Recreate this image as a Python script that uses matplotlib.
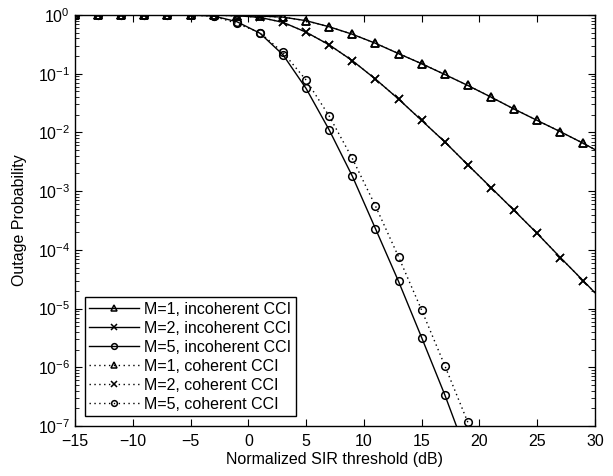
import numpy as np
import matplotlib
matplotlib.use('Agg')
import matplotlib.pyplot as plt

plt.rcParams['font.family'] = ['Liberation Sans', 'DejaVu Sans']
plt.rcParams['mathtext.fontset'] = 'custom'
plt.rcParams['mathtext.rm'] = 'Liberation Sans'

# SIR threshold (dB): markers every 2 dB, curves continue to the axis edge
snr = [-15, -13, -11, -9, -7, -5, -3, -1, 1, 3, 5, 7, 9, 11, 13, 15, 17, 19, 21, 23, 25, 27, 29, 30]
snr_m5 = [-15, -13, -11, -9, -7, -5, -3, -1, 1, 3, 5, 7, 9, 11, 13, 15, 17, 19, 21]

# incoherent CCI
p_m1_inc = [1.0, 1.0, 1.0, 1.0, 0.999, 0.997, 0.99, 0.98, 0.96, 0.92, 0.80, 0.63, 0.47, 0.33, 0.22,
            0.148, 0.097, 0.063, 0.040, 0.025, 0.016, 0.0103, 0.0065, 0.0051]
p_m2_inc = [1.0, 1.0, 1.0, 1.0, 1.0, 0.999, 0.995, 0.975, 0.91, 0.75, 0.51, 0.31, 0.167, 0.081, 0.037,
            0.016, 0.0069, 0.0028, 0.00115, 0.00047, 0.00019, 7.4e-5, 2.95e-5, 1.86e-5]
p_m5_inc = [1.0, 1.0, 1.0, 1.0, 1.0, 0.995, 0.96, 0.77, 0.49, 0.21, 0.056, 0.011, 0.0018, 2.3e-4,
            2.9e-5, 3.2e-6, 3.4e-7, 3.0e-8, 2.5e-9]

# coherent CCI
p_m1_coh = p_m1_inc
p_m2_coh = p_m2_inc
p_m5_coh = [1.0, 1.0, 1.0, 1.0, 1.0, 0.995, 0.955, 0.72, 0.50, 0.23, 0.078, 0.019, 0.0036, 5.6e-4,
            7.6e-5, 9.4e-6, 1.07e-6, 1.15e-7, 1.0e-8]

fig = plt.figure(figsize=(6.13, 4.76), dpi=100)
ax = fig.add_axes([75 / 613, 1 - 426 / 476, 520 / 613, 411 / 476])

ms = 5.5
mw = 1.1
dots = (0, (1, 2.5))
mk_all = list(range(len(snr) - 1))
ax.semilogy(snr, p_m1_inc, 'k-', lw=1, marker='^', ms=ms, mfc='none', mew=mw,
            markevery=mk_all, label='M=1, incoherent CCI')
ax.semilogy(snr, p_m2_inc, 'k-', lw=1, marker='x', ms=ms, mfc='none', mew=mw,
            markevery=mk_all, label='M=2, incoherent CCI')
ax.semilogy(snr_m5, p_m5_inc, 'k-', lw=1, marker='o', ms=ms, mfc='none', mew=mw,
            label='M=5, incoherent CCI')
ax.semilogy(snr, p_m1_coh, color='k', ls=dots, lw=1, marker='^', ms=ms, mfc='none', mew=mw,
            markevery=mk_all, label='M=1, coherent CCI')
ax.semilogy(snr, p_m2_coh, color='k', ls=dots, lw=1, marker='x', ms=ms, mfc='none', mew=mw,
            markevery=mk_all, label='M=2, coherent CCI')
ax.semilogy(snr_m5, p_m5_coh, color='k', ls=dots, lw=1, marker='o', ms=ms, mfc='none', mew=mw,
            label='M=5, coherent CCI')

ax.set_xlim(-15, 30)
ax.set_ylim(1e-7, 1)
ax.set_xticks(np.arange(-15, 31, 5))
ax.tick_params(which='both', direction='in', top=True, right=True, labelsize=11.5)
ax.tick_params(which='major', length=5)
ax.tick_params(which='minor', length=3)
ax.tick_params(axis='x', pad=6)
for s in ax.spines.values():
    s.set_linewidth(1)

ax.set_xlabel('Normalized SIR threshold (dB)', fontsize=11.5, labelpad=2)
ax.set_ylabel('Outage Probability', fontsize=11.5, labelpad=8)

leg = ax.legend(loc='lower left', fontsize=11.5, fancybox=False, edgecolor='k', framealpha=1,
                handlelength=3.1, borderaxespad=0.6, labelspacing=0.25, handletextpad=0.3,
                borderpad=0.3, markerscale=0.75)
leg.get_frame().set_linewidth(1)

fig.savefig('out.png', dpi=100)
